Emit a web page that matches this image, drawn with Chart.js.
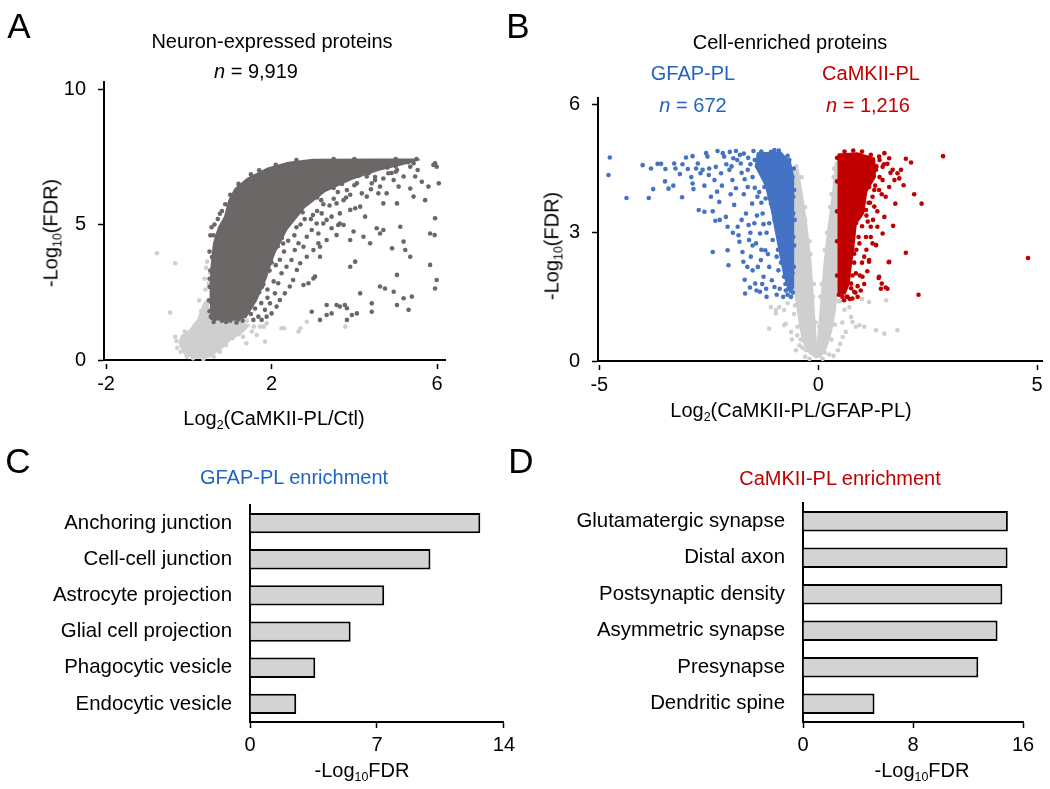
<!DOCTYPE html>
<html>
<head>
<meta charset="utf-8">
<script src="https://cdn.jsdelivr.net/npm/chart.js@4.4.1/dist/chart.umd.min.js"></script>
<style>
  body { margin: 0; background: #fff; }
  #fig { position: relative; width: 1050px; height: 789px; overflow: hidden;
         font-family: 'Liberation Sans', Arial, sans-serif; color: #000; }
  canvas { position: absolute; }
  .t { position: absolute; white-space: nowrap; font-size: 20px; line-height: 1;
       transform: translate(-50%, -50%); }
  .rot { transform: translate(-50%, -50%) rotate(-90deg); }
  .letter { font-size: 35px; }
  .sub { font-size: 0.62em; vertical-align: -0.3em; }
  .blue { color: #1f64c3; }
  .red { color: #c00000; }
</style>
</head>
<body>
<div id="fig">
  <canvas id="chartA" width="460" height="440" style="left:0;top:0"></canvas>
  <canvas id="chartB" width="580" height="440" style="left:470px;top:0"></canvas>
  <canvas id="chartC" width="520" height="349" style="left:0;top:440px"></canvas>
  <canvas id="chartD" width="530" height="349" style="left:520px;top:440px"></canvas>

  <div class="t letter" style="left:19px;top:25px">A</div>
  <div class="t letter" style="left:518px;top:25px">B</div>
  <div class="t letter" style="left:18px;top:460px">C</div>
  <div class="t letter" style="left:521px;top:460px">D</div>

  <div class="t" style="left:272px;top:41px">Neuron-expressed proteins</div>
  <div class="t" style="left:256px;top:71px"><i>n</i> = 9,919</div>
  <div class="t rot" style="left:52px;top:233px">-Log<span class="sub">10</span>(FDR)</div>
  <div class="t" style="left:274px;top:420px">Log<span class="sub">2</span>(CaMKII-PL/Ctl)</div>

  <div class="t" style="left:790px;top:42px">Cell-enriched proteins</div>
  <div class="t blue" style="left:693px;top:73px">GFAP-PL</div>
  <div class="t blue" style="left:693px;top:105px"><i>n</i> = 672</div>
  <div class="t red" style="left:871px;top:73px">CaMKII-PL</div>
  <div class="t red" style="left:868px;top:105px"><i>n</i> = 1,216</div>
  <div class="t rot" style="left:553px;top:246px">-Log<span class="sub">10</span>(FDR)</div>
  <div class="t" style="left:791px;top:412px">Log<span class="sub">2</span>(CaMKII-PL/GFAP-PL)</div>

  <div class="t blue" style="left:294px;top:477px">GFAP-PL enrichment</div>
  <div class="t" style="left:362px;top:772px">-Log<span class="sub">10</span>FDR</div>
  <div class="t red" style="left:840px;top:478px">CaMKII-PL enrichment</div>
  <div class="t" style="left:922px;top:772px">-Log<span class="sub">10</span>FDR</div>
</div>

<script>
// ---- Panel A: Log2(CaMKII-PL/Ctl) vs -Log10(FDR) ----
const xTicksA = [-2, 2, 6];
const yTicksA = [0, 5, 10];
// outline of the solid dark cloud (overlapping points)
const aDarkCore = [[0.52,1.48],[0.8,1.45],[1.1,1.45],[1.39,1.55],[1.65,2.2],[1.88,3.0],[2.08,3.9],
  [2.38,4.8],[2.8,5.6],[3.3,6.2],[3.95,6.65],[4.6,6.98],[5.25,7.22],[5.6,7.38],[5.55,7.44],[4.5,7.44],
  [3.0,7.43],[2.4,7.32],[1.9,7.1],[1.4,6.72],[1.1,6.33],[0.95,5.9],[0.85,5.3],[0.7,4.9],[0.58,4.3],
  [0.52,3.4],[0.5,2.5]];
const aDarkPts = [[5.95,7.26],[5.99,7.13],[5.91,7.2],[6.04,6.52],[5.95,5.23],[5.83,4.67],[5.94,4.61],
  [5.83,3.51],[5.99,2.95],[5.95,2.64],[5.71,5.9],[5.79,6.4],[5.63,6.58],[5.47,6.77],[5.53,7.01],[5.35,7.13],
  [5.43,6.03],[5.35,6.33],[5.19,6.77],[5.07,6.4],[5.03,5.78],[4.95,6.64],[4.82,6.89],[4.78,6.15],[4.7,5.78],
  [4.62,6.4],[4.58,6.15],[4.5,6.64],[4.42,6.52],[4.3,6.03],[4.18,6.15],[4.06,6.52],[4.14,5.66],[4.02,5.6],
  [3.9,5.54],[3.82,6.27],[3.74,5.9],[3.65,5.41],[3.57,5.78],[3.45,5.29],[3.33,5.17],[3.21,5.41],[3.09,5.04],
  [2.97,4.8],[2.85,4.55],[2.77,4.18],[2.65,4.31],[2.56,4.06],[2.48,3.69],[2.36,3.44],[2.24,3.2],[2.16,2.83],
  [2.08,2.46],[1.96,2.09],[1.84,1.85],[1.68,1.6],[1.56,1.48],[3.01,4.06],[3.17,3.81],[2.85,3.81],[2.69,3.57],
  [3.13,4.31],[3.33,4.43],[3.57,4.61],[3.74,4.98],[3.98,4.74],[4.26,5.29],[4.54,4.86],[4.7,4.8],[5.11,4.92],
  [4.91,4.12],[5.19,4.37],[5.23,4.06],[5.35,3.81],[5.03,3.14],[4.62,2.71],[4.74,2.64],[4.95,2.52],[5.19,2.28],
  [5.39,2.34],[5.03,2.03],[5.31,1.85],[4.42,2.09],[4.42,1.78],[4.14,2.46],[3.9,3.44],[4.02,3.63],[3.57,2.03],
  [3.65,1.97],[3.77,2.03],[3.82,1.91],[3.94,1.66],[4.06,1.72],[3.33,2.03],[3.45,1.72],[3.33,1.66],[3.17,1.48],
  [2.97,1.78],[3.82,1.48],[2.77,2.77],[2.89,2.83],[3.01,3.01],[3.05,3.08],[3.17,4.18],[3.45,4.86],[3.61,4.98],
  [3.65,5.04],[3.25,5.04],[3.13,4.67],[2.61,3.32],[2.52,2.95],[2.44,2.71],[2.32,2.46],[2.2,2.21],[2.12,1.97],
  [2.0,1.72],[1.88,1.6],[1.76,1.48],[4.22,4.55],[4.38,4.31],[3.9,4.43],[4.62,4.67],[4.3,6.77],[4.7,6.7],
  [5.03,7.01],[5.11,7.26],[5.43,7.26],[0.55,4.9],[0.6,4.6],[0.5,4.0],[0.52,3.3],[0.5,2.7],[0.55,2.1],
  [0.53,1.6],[0.62,1.5],[0.8,1.45],[1.0,1.45],[1.2,1.5],[0.7,5.2],[0.8,5.5],[2.55,4.6],[2.95,5.2],[3.4,5.7],
  [3.9,6.1],[4.4,6.3],[4.9,6.9],[2.3,4.0],[2.1,3.5],[1.9,2.6],[1.75,2.1],[2.7,5.0],[3.1,5.5],
  [1.5,1.7],[1.6,1.9],[1.7,2.5],[1.8,2.8],[1.95,3.3],[2.0,3.6],[2.15,4.2],[2.25,4.5],[2.35,5.0],[2.5,5.2],
  [2.6,5.5],[2.9,5.85],[3.1,6.0],[3.5,6.35],[3.7,6.5],[4.1,6.8],[4.35,6.9],[4.8,7.1],[5.0,7.15],[5.3,7.3],
  [1.45,1.9],[1.58,2.3],[1.77,2.7],[1.85,3.2],[2.02,3.9],[2.28,4.3],[2.42,5.25],[2.75,5.45],[3.2,5.9],
  [3.6,6.2],[4.0,6.45],[4.5,6.75],[5.0,6.95],[1.9,2.3],[2.05,2.9],[2.2,3.7],[2.4,4.4],[2.6,4.9],[2.8,5.2],
  [3.0,5.35],[3.25,5.75],[3.5,5.95],[3.8,6.0],[0.6,1.4],[0.9,1.4],[1.15,1.38],[1.3,1.45],[0.52,4.6],
  [0.56,3.8],[0.5,3.0],[0.49,2.2],[0.5,1.8],[0.62,5.0],[0.75,5.4],[0.88,5.75],[1.0,6.1],[1.2,6.5],[1.5,6.85],
  [1.7,7.0],[2.1,7.2],[2.6,7.38],[3.5,7.42],[4.0,7.42],[5.0,7.42],[5.5,7.42]];
const aLightCore = [[-0.25,0.6],[-0.1,0.15],[0.2,0.05],[0.5,0.08],[0.8,0.4],[1.0,0.7],[1.3,1.0],[1.5,1.3],
  [1.0,1.5],[0.55,1.6],[0.45,2.3],[0.35,2.1],[0.2,1.5],[0.0,1.1],[-0.2,0.9]];
const aLightPts = [[-0.77,3.94],[-0.33,3.57],[-0.45,1.75],[-0.33,0.86],[-0.17,0.74],[-0.3,0.7],[-0.28,0.45],
  [-0.2,0.3],[-0.05,0.12],[0.1,0.06],[0.35,0.04],[0.6,0.12],[0.75,0.3],[0.9,0.55],[1.05,0.8],[1.2,0.95],
  [1.31,0.86],[1.39,0.62],[1.52,1.05],[1.64,0.92],[1.72,1.23],[1.84,0.68],[1.88,1.35],[2.24,1.17],[2.3,1.17],
  [2.65,1.05],[2.7,1.17],[2.85,1.41],[3.78,1.23],[1.57,1.23],[1.81,1.23],[0.44,3.63],[0.52,3.2],[0.48,2.83],
  [0.4,2.6],[0.56,2.34],[0.44,2.09],[0.3,1.8],[0.15,1.3],[0.05,1.0],[-0.1,1.05],[0.25,2.2],[0.38,3.0],
  [0.42,3.4],[1.4,1.45],[1.2,1.35],[0.1,0.5],[0.3,0.3]];

// ---- Panel B: Log2(CaMKII-PL/GFAP-PL) vs -Log10(FDR) ----
const xTicksB = [-5, 0, 5];
const yTicksB = [0, 3, 6];
const bGrayCore = [[-0.58,4.45],[-0.45,4.5],[-0.35,3.9],[-0.25,3.2],[-0.15,2.3],[-0.08,1.2],[-0.03,0.45],
  [0.03,1.2],[0.12,2.3],[0.22,3.2],[0.32,4.0],[0.38,4.65],[0.45,4.7],[0.45,1.7],[0.4,1.15],[0.32,0.7],
  [0.2,0.3],[0.06,0.08],[-0.06,0.06],[-0.22,0.18],[-0.37,0.45],[-0.45,0.9],[-0.52,1.4],[-0.6,1.9],[-0.6,3.8]];
const bGrayPts = [[-1.12,0.76],[-0.97,1.11],[-1.08,1.26],[-0.74,0.87],[-0.78,1.19],[-0.89,1.26],[-0.62,0.68],
  [-0.51,0.25],[-0.43,0.37],[-0.78,0.84],[-0.97,1.19],[-0.36,0.31],[-0.65,1.5],[-0.7,1.35],[-0.55,1.1],
  [-0.6,0.5],[-0.48,0.6],[-0.3,0.1],[-0.2,0.05],[0.1,0.05],[0.25,0.15],[0.75,1.03],[0.78,0.91],[0.94,0.84],
  [1.05,0.8],[1.16,1.38],[1.32,0.72],[1.51,0.64],[1.81,0.72],[0.63,0.68],[0.56,0.56],[0.71,1.26],[1.55,1.42],
  [0.86,0.8],[0.5,0.4],[0.45,0.25],[0.35,0.12],[0.6,1.2],[0.55,0.9],[0.5,1.4],[0.48,1.75],[1.0,1.45],
  [-0.62,2.5],[-0.6,3.0],[-0.58,4.0],[-0.5,4.55],[0.47,4.75],[0.48,3.5],[0.47,2.5],[0.46,2.0],[-0.3,3.6],
  [-0.2,2.8],[-0.1,1.8],[0.05,1.5],[0.15,2.6],[0.27,3.6],[0.35,4.3],[-0.62,2.0],[-0.63,3.4],[-0.57,4.3],
  [-0.53,1.3],[-0.47,0.8],[-0.4,0.5],[-0.28,0.25],[0.47,4.2],[0.48,3.0],[0.46,1.4],[0.38,0.85],[0.3,0.5],
  [0.15,0.2],[-0.38,4.3],[-0.3,3.3],[-0.18,2.5],[-0.12,1.5],[-0.06,0.9],[0.02,0.8],[0.08,1.8],[0.2,3.0],
  [0.3,3.9],[0.36,4.5]];
const bBlueCore = [[-1.4,4.88],[-0.85,4.9],[-0.62,4.65],[-0.55,4.3],[-0.55,1.7],[-0.66,1.58],[-0.8,2.0],
  [-0.95,2.8],[-1.08,3.5],[-1.22,4.1],[-1.45,4.55]];
const bBluePts = [[-4.76,4.76],[-4.79,4.35],[-4.38,3.81],[-4.01,4.58],[-3.87,3.81],[-3.82,4.5],[-3.77,4.02],
  [-3.67,4.61],[-3.59,4.61],[-3.49,4.49],[-3.42,4.03],[-3.31,4.1],[-3.29,4.62],[-3.26,4.5],[-3.16,4.37],
  [-3.11,3.83],[-3.02,4.76],[-2.98,4.49],[-2.87,4.79],[-2.87,4.15],[-2.85,4.02],[-2.79,4.5],[-2.75,4.62],
  [-2.73,3.53],[-2.69,4.39],[-2.64,4.47],[-2.6,3.49],[-2.56,4.86],[-2.53,4.78],[-2.5,4.35],[-2.49,4.5],
  [-2.45,3.84],[-2.41,3.5],[-2.41,2.55],[-2.37,4.23],[-2.35,3.28],[-2.34,4.54],[-2.31,3.96],[-2.3,4.91],
  [-2.26,3.72],[-2.22,4.39],[-2.18,4.86],[-2.15,4.78],[-2.11,3.37],[-2.07,3.14],[-2.07,2.59],[-2.05,2.24],
  [-2.03,4.47],[-2.02,4.89],[-1.96,4.23],[-1.94,4.74],[-1.92,3.65],[-1.88,4.91],[-1.88,4.04],[-1.84,3.14],
  [-1.82,2.94],[-1.8,2.79],[-1.79,4.82],[-1.77,4.62],[-1.73,2.55],[-1.71,2.32],[-1.67,1.58],[-1.65,3.45],
  [-1.61,4.07],[-1.61,4.47],[-1.59,3.18],[-1.58,2.83],[-1.54,2.44],[-1.51,3.68],[-1.5,2.12],[-1.48,4.91],
  [-1.46,3.22],[-1.44,1.81],[-1.42,2.75],[-1.41,1.65],[-1.39,3.84],[-1.36,4.82],[-1.35,4.47],[-1.33,2.98],
  [-1.31,2.36],[-1.27,3.45],[-1.25,1.97],[-1.23,4.07],[-1.21,2.59],[-1.19,1.69],[-1.18,1.5],[-1.16,4.7],
  [-1.12,3.22],[-1.12,2.2],[-1.08,4.89],[-1.08,3.68],[-1.06,1.89],[-1.04,2.83],[-1.03,4.23],[-1.0,1.73],
  [-0.98,3.45],[-0.97,4.62],[-0.95,2.44],[-0.93,3.92],[-0.91,2.12],[-0.89,3.06],[-0.88,1.69],[-0.85,4.78],
  [-0.83,3.6],[-0.81,2.67],[-0.8,4.39],[-0.78,1.97],[-0.75,3.29],[-0.74,1.65],[-0.72,4.07],[-0.7,2.9],
  [-0.68,2.28],[-0.66,4.7],[-0.65,3.68],[-0.62,1.5],[-0.62,3.22],[-0.6,2.59],[-0.59,4.31],[-0.59,2.05],
  [-0.57,3.84],[-0.57,2.9],[-0.57,3.45],[-2.1,4.6],[-1.98,4.55],[-1.85,4.7],[-1.7,4.85],[-1.6,4.75],
  [-1.55,4.6],[-1.45,4.7],[-1.4,4.55],[-1.3,4.9],[-1.25,4.6],[-1.2,4.35],[-1.15,4.5],[-1.75,4.4],[-1.68,4.25],
  [-1.5,4.3],[-1.45,4.05],[-1.35,3.95],[-1.3,3.7],[-1.2,3.8],[-1.25,3.2],[-1.18,3.0],[-1.3,2.6],[-1.15,2.5],
  [-1.38,2.2],[-1.28,1.8],[-1.4,3.4],[-1.55,3.0],[-1.5,2.7],[-1.62,2.2],[-1.68,1.9],[-1.7,3.9],[-1.75,3.3],
  [-1.95,3.0],[-2.0,3.9],[-2.2,4.1],[-2.25,3.3],[-2.6,4.1],[-2.9,4.3],[-3.1,4.6],[-3.5,4.2],[-1.56,1.72],
  [-1.33,1.62],[-0.95,1.55],[-0.8,1.5],[-0.7,1.55],[-1.05,4.0],[-1.0,3.3],[-0.92,2.6],[-0.85,2.3],
  [-0.75,1.8],[-0.68,1.7],[-0.95,4.4],[-1.1,4.7],[-1.18,4.2],[-1.1,3.85],[-1.02,3.55],[-0.94,3.15],
  [-0.88,2.75],[-0.8,2.4],[-0.72,2.0],[-0.62,1.65],[-0.58,1.6],[-0.56,2.2],[-0.55,2.7],[-0.54,3.3],
  [-0.55,4.0],[-0.56,4.5],[-0.7,4.8],[-0.9,4.92],[-1.0,4.93]];
const bRedCore = [[0.44,4.85],[0.9,4.88],[1.3,4.75],[1.32,4.3],[1.12,3.95],[1.05,3.45],[0.88,3.2],
  [0.82,2.6],[0.76,2.2],[0.72,1.8],[0.62,1.55],[0.44,1.55]];
const bRedPts = [[2.85,4.79],[4.79,2.41],[2.29,1.55],[2.0,2.53],[2.36,3.68],[2.19,3.9],[2.0,4.73],[2.12,4.64],
  [1.95,4.11],[1.76,3.68],[1.71,3.16],[1.61,2.31],[1.54,1.72],[1.45,1.81],[1.38,1.94],[1.32,2.71],[1.51,3.37],
  [1.54,3.84],[1.7,4.47],[1.81,4.39],[1.85,4.27],[1.62,4.74],[1.47,4.23],[1.39,4.0],[1.28,3.61],[1.2,3.14],
  [1.16,2.32],[1.09,2.9],[1.01,1.97],[0.97,1.65],[0.9,1.5],[0.78,1.46],[0.67,1.5],[1.09,3.53],[1.16,4.07],
  [1.32,4.47],[1.47,4.54],[1.58,4.61],[1.05,2.44],[0.86,2.05],[0.75,1.81],[0.59,1.42],[0.94,2.75],[1.24,2.75],
  [1.13,3.26],[1.35,3.14],[0.86,3.22],[0.97,3.76],[1.24,3.84],[1.62,4.07],[1.74,4.23],[1.89,4.47],[1.39,4.78],
  [1.51,4.86],[0.82,2.51],[0.71,2.2],[0.63,1.81],[1.4,4.3],[1.45,3.9],[1.35,3.5],[1.25,3.3],[1.2,2.9],
  [1.1,2.6],[1.0,2.3],[0.95,2.0],[0.9,1.75],[0.85,1.6],[1.15,3.7],[1.3,4.1],[1.22,4.5],[1.5,4.6],[1.65,4.4],
  [1.12,2.1],[1.05,1.8],[0.72,1.45],[0.82,1.62],[1.62,2.32],[1.43,1.69],[1.58,1.69],[1.39,1.97],[1.47,2.98],
  [1.32,2.71],[1.16,2.36],[1.33,4.55],[1.28,4.0],[1.18,3.7],[1.1,3.4],[1.0,3.15],[0.92,2.9],[0.87,2.6],
  [0.82,2.3],[0.78,2.0],[0.75,1.7],[0.65,1.5],[0.55,1.5],[0.47,1.55],[0.43,2.0],[0.43,2.8],[0.43,3.5],
  [0.43,4.2],[0.43,4.75],[0.6,4.9],[0.8,4.92],[1.0,4.9],[1.2,4.82],[1.4,4.7]];

// ---- Panel C: GFAP-PL enrichment ----
const cCategories = ['Anchoring junction', 'Cell-cell junction', 'Astrocyte projection',
  'Glial cell projection', 'Phagocytic vesicle', 'Endocytic vesicle'];
const cValues = [12.7, 9.95, 7.4, 5.55, 3.6, 2.55];
const xTicksC = [0, 7, 14];

// ---- Panel D: CaMKII-PL enrichment ----
const dCategories = ['Glutamatergic synapse', 'Distal axon', 'Postsynaptic density',
  'Asymmetric synapse', 'Presynapse', 'Dendritic spine'];
const dValues = [14.9, 14.88, 14.5, 14.15, 12.75, 5.2];
const xTicksD = [0, 8, 16];

Chart.defaults.font.family = "'Liberation Sans', Arial, sans-serif";
Chart.defaults.font.size = 20;
Chart.defaults.color = '#000';

const toXY = pts => pts.map(([x, y]) => ({ x, y }));

// fills the outline of a dense point cloud (dataset.core) under that dataset's points
const cloudFill = {
  id: 'cloudFill',
  beforeDatasetDraw(chart, args) {
    const ds = chart.data.datasets[args.index];
    if (!ds.core) return;
    const { ctx, chartArea: a, scales } = chart;
    ctx.save();
    ctx.beginPath();
    ctx.rect(a.left, a.top, a.width, a.height);
    ctx.clip();
    ctx.beginPath();
    ds.core.forEach(([vx, vy], i) => {
      const px = scales.x.getPixelForValue(vx);
      const py = scales.y.getPixelForValue(vy);
      if (i === 0) ctx.moveTo(px, py); else ctx.lineTo(px, py);
    });
    ctx.closePath();
    ctx.fillStyle = ds.backgroundColor;
    ctx.fill();
    ctx.restore();
  }
};

function numAxis(min, max, ticks, size, isX, tickLen, dashed, pad) {
  return {
    type: 'linear', min, max,
    afterBuildTicks: s => { s.ticks = ticks.map(v => ({ value: v })); },
    afterFit: s => { if (isX) s.height = size; else s.width = size; },
    grid: {
      drawOnChartArea: false, tickLength: tickLen, tickColor: '#000', tickWidth: 1.5,
      tickBorderDash: dashed ? [0, 3, 6, 20] : []
    },
    border: { color: '#000', width: 2 },
    ticks: { padding: pad, maxRotation: 0, autoSkip: false }
  };
}

function cloud(points, core, color) {
  return { data: toXY(points), core, backgroundColor: color, pointRadius: 2.3,
           pointBorderWidth: 0, borderWidth: 0, clip: false };
}

const common = {
  responsive: false, animation: false, events: [],
  plugins: { legend: { display: false }, tooltip: { enabled: false } }
};

new Chart(document.getElementById('chartA'), {
  type: 'scatter',
  data: { datasets: [
    cloud(aDarkPts, aDarkCore, '#6b6767'),
    cloud(aLightPts, aLightCore, '#cfcfcf')
  ] },
  options: { ...common,
    layout: { padding: { top: 82, right: 15, left: 0, bottom: 0 } },
    scales: {
      x: numAxis(-2.05, 6.19, xTicksA, 80, true, 9, true, 3),
      y: numAxis(0, 10.26, yTicksA, 104, false, 9, true, 9)
    }
  },
  plugins: [cloudFill]
});

new Chart(document.getElementById('chartB'), {
  type: 'scatter',
  data: { datasets: [
    cloud(bRedPts, bRedCore, '#c00000'),
    cloud(bBluePts, bBlueCore, '#4472c4'),
    cloud(bGrayPts, bGrayCore, '#cfcfcf')
  ] },
  options: { ...common,
    layout: { padding: { top: 98, right: 8, left: 0, bottom: 0 } },
    scales: {
      x: numAxis(-5.03, 5.11, xTicksB, 79, true, 9, true, 3),
      y: numAxis(0, 6.15, yTicksB, 128, false, 9, true, 9)
    }
  },
  plugins: [cloudFill]
});

function barChart(id, labels, values, ticks, max, yWidth, topPad, rightPad) {
  return new Chart(document.getElementById(id), {
    type: 'bar',
    data: { labels, datasets: [{
      data: values, backgroundColor: '#d3d3d3', borderColor: '#000', borderWidth: 2,
      borderSkipped: 'start', barPercentage: 0.56, categoryPercentage: 1
    }] },
    options: { ...common,
      indexAxis: 'y',
      layout: { padding: { top: topPad, right: rightPad, left: 0, bottom: 0 } },
      scales: {
        x: numAxis(0, max, ticks, 67, true, 6, false, 5),
        y: {
          afterFit: s => { s.width = yWidth; },
          grid: { display: false, drawTicks: false },
          border: { color: '#000', width: 2 },
          ticks: { padding: 18, autoSkip: false, font: { size: 20.4 } }
        }
      }
    }
  });
}

barChart('chartC', cCategories, cValues, xTicksC, 14, 250, 65, 10);
barChart('chartD', dCategories, dValues, xTicksD, 16, 283, 63, 27);
</script>
</body>
</html>
